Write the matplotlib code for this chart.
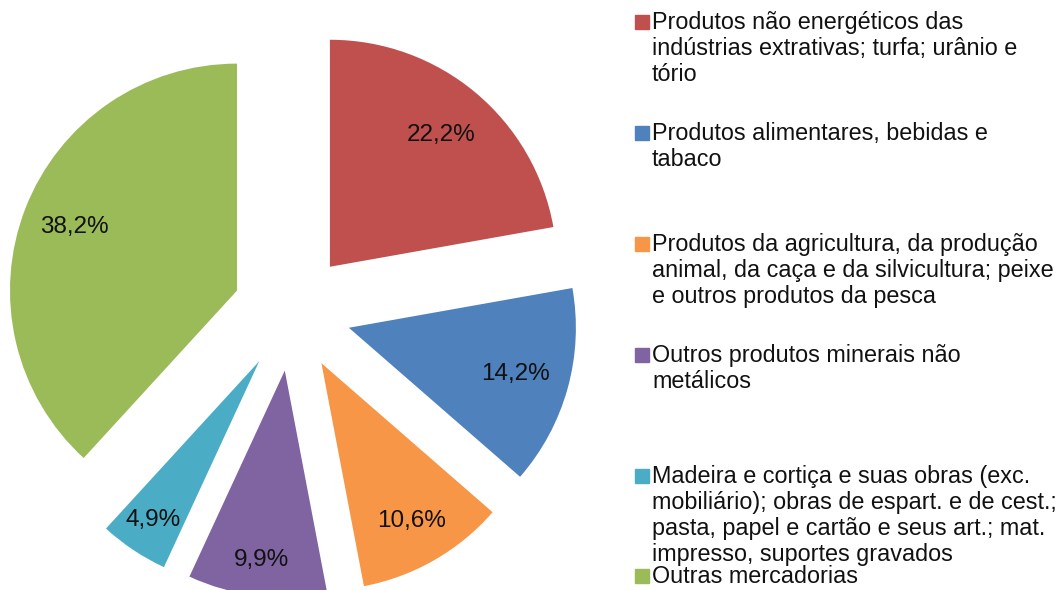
import matplotlib.pyplot as plt
import numpy as np

plt.rcParams['font.family'] = ['Liberation Sans', 'DejaVu Sans']

categorias = [
    'Produtos não energéticos das\nindústrias extrativas; turfa; urânio e\ntório',
    'Produtos alimentares, bebidas e\ntabaco',
    'Produtos da agricultura, da produção\nanimal, da caça e da silvicultura; peixe\ne outros produtos da pesca',
    'Outros produtos minerais não\nmetálicos',
    'Madeira e cortiça e suas obras (exc.\nmobiliário); obras de espart. e de cest.;\npasta, papel e cartão e seus art.; mat.\nimpresso, suportes gravados',
    'Outras mercadorias',
]
valores = [22.2, 14.2, 10.6, 9.9, 4.9, 38.2]
rotulos = ['22,2%', '14,2%', '10,6%', '9,9%', '4,9%', '38,2%']
cores = ['#C0504D', '#4F81BD', '#F79646', '#8064A2', '#4BACC6', '#9BBB59']

W, H = 1059, 590
fig = plt.figure(figsize=(W / 100, H / 100), dpi=100)

# pie: centre at (292, 312) px, radius 227 px
R = 227
cx, cy = 292, H - 312
lim = 1.3
half = lim * R
ax = fig.add_axes([(cx - half) / W, (cy - half) / H, 2 * half / W, 2 * half / H])
expl = 0.26
wedges, _ = ax.pie(valores, colors=cores, startangle=90, counterclock=False,
                   explode=[expl] * len(valores), radius=1,
                   wedgeprops=dict(linewidth=0))
ax.set_xlim(-lim, lim)
ax.set_ylim(-lim, lim)
ax.set_aspect('equal')
ax.axis('off')

lab_r = [0.76, 0.76, 0.80, 0.84, 0.84, 0.77]
for w, txt, r in zip(wedges, rotulos, lab_r):
    ang = np.deg2rad((w.theta1 + w.theta2) / 2)
    x = (expl + r) * np.cos(ang)
    y = (expl + r) * np.sin(ang)
    ax.text(x, y, txt, ha='center', va='center', fontsize=17.5, color='#111111')

# legend drawn by hand
first_base = [29, 140, 251, 362, 483, 583]
pitch = 26
fs = 16.8
for cat, cor, b in zip(categorias, cores, first_base):
    fig.patches.append(plt.Rectangle((635 / W, (H - b) / H), 14 / W, 14 / H,
                                     transform=fig.transFigure, color=cor))
    for k, line in enumerate(cat.split('\n')):
        fig.text(652 / W, (H - b - k * pitch) / H, line, fontsize=fs,
                 va='baseline', ha='left', color='#111111')

plt.savefig('out.png', dpi=100)
